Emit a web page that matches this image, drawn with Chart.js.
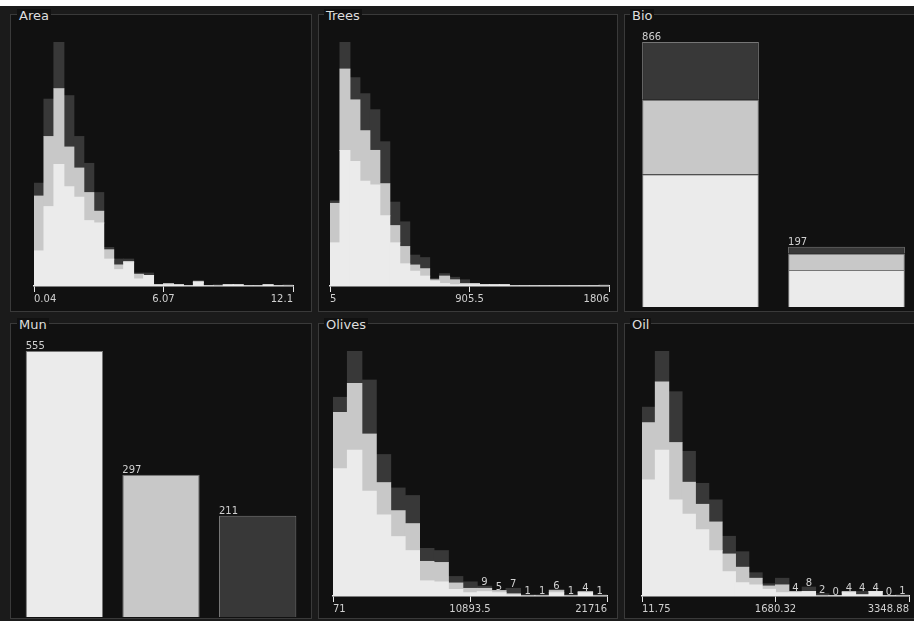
<!DOCTYPE html>
<html><head><meta charset="utf-8">
<script src="https://cdn.jsdelivr.net/npm/chart.js@4/dist/chart.umd.min.js"></script>
<style>
html,body{margin:0;padding:0;width:914px;height:621px;overflow:hidden;background:#ffffff;}
#stage{position:absolute;left:0;top:6px;width:914px;height:615px;background:#1b1b1b;}
.panel{position:absolute;background:#111111;border:1px solid #3a3a3a;box-sizing:border-box;}
.title{position:absolute;font-family:"DejaVu Sans",sans-serif;font-size:13px;line-height:13px;color:#dedede;background:#111111;padding:0 2px;white-space:nowrap;}
canvas{position:absolute;}
</style></head><body>
<div id="stage"></div>
<script>
// ---------------- DATA ----------------
const areaTicks   = ['0.04', '6.07', '12.1'];
const areaLight   = [30, 68, 104, 85, 76, 56, 54, 23, 14, 20, 6, 9, 1, 1, 1, 0, 3, 0, 0, 1, 1, 0, 0, 1, 0, 0];
const areaMid     = [47, 60, 65, 34, 25, 24, 10, 8, 4, 1, 4, 0, 0, 1, 0, 0, 1, 0, 0, 0, 0, 0, 0, 0, 0, 0];
const areaDark    = [11, 32, 40, 44, 27, 25, 16, 2, 5, 2, 1, 2, 0, 0, 0, 0, 0, 0, 1, 0, 0, 0, 0, 0, 0, 1];

const treesTicks  = ['5', '905.5', '1806'];
const treesLight  = [35, 110, 101, 85, 82, 57, 35, 18, 12, 8, 4, 2, 1, 1, 1, 1, 1, 1, 0, 0, 0, 0, 0, 0, 0, 0, 0, 0];
const treesMid    = [32, 66, 50, 41, 28, 26, 14, 14, 5, 6, 1, 6, 4, 1, 1, 0, 0, 0, 0, 0, 0, 0, 0, 0, 0, 0, 0, 0];
const treesDark   = [2, 22, 18, 30, 33, 34, 19, 20, 8, 9, 1, 2, 2, 3, 0, 0, 0, 0, 0, 0, 0, 0, 0, 0, 0, 0, 0, 1];

const bioCategories = ['0', '1'];
const bioLight    = [434, 121];
const bioMid      = [243, 54];
const bioDark     = [189, 22];

const munCategories = ['1', '2', '3'];
const munValues   = [555, 297, 211];

const olivesTicks = ['71', '10893.5', '21716'];
const olivesLight = [118, 135, 97, 75, 55, 42, 14, 13, 6, 3, 4, 3, 1, 0, 0, 3, 0, 3, 0];
const olivesMid   = [52, 62, 53, 30, 24, 25, 18, 18, 6, 4, 3, 2, 1, 0, 0, 2, 0, 1, 0];
const olivesDark  = [14, 30, 50, 26, 21, 26, 12, 11, 6, 6, 2, 0, 5, 1, 1, 1, 1, 0, 1];

const oilTicks    = ['11.75', '1680.32', '3348.88'];
const oilLight    = [105, 132, 87, 74, 60, 41, 22, 12, 10, 6, 3, 3, 4, 0, 0, 3, 1, 4, 0, 0];
const oilMid      = [52, 62, 52, 29, 23, 26, 16, 14, 6, 3, 7, 1, 0, 0, 0, 1, 0, 0, 0, 0];
const oilDark     = [14, 28, 46, 28, 19, 20, 16, 14, 5, 2, 6, 0, 4, 2, 0, 0, 3, 0, 0, 1];

// ---------------- STYLE ----------------
const C_LIGHT = '#ebebeb', C_MID = '#c8c8c8', C_DARK = '#383838';
const LABEL_FONT = '10px "DejaVu Sans"';
const LABEL_COLOR = '#d0d0d0';

const countLabels = {
  id: 'countLabels',
  afterDatasetsDraw(chart, args, opts) {
    if (!opts || !opts.mode) return;
    const ctx = chart.ctx;
    const n = chart.data.labels.length;
    const metas = chart.data.datasets.map((d, i) => chart.getDatasetMeta(i));
    ctx.save();
    ctx.font = LABEL_FONT;
    ctx.fillStyle = LABEL_COLOR;
    ctx.textBaseline = 'alphabetic';
    for (let i = 0; i < n; i++) {
      const total = chart.data.datasets.reduce((s, d) => s + (d.data[i] || 0), 0);
      let top = Infinity;
      metas.forEach(m => { if (m.data[i]) top = Math.min(top, m.data[i].y); });
      const el = metas[0].data[i];
      if (opts.mode === 'bar') {
        ctx.textAlign = 'left';
        ctx.fillText(String(total), el.x - el.width / 2, top - 2);
      } else if (opts.mode === 'small' && total < opts.threshold) {
        ctx.textAlign = 'center';
        ctx.fillText(String(total), el.x, top - 1);
      }
    }
    ctx.restore();
  }
};

function makePanel(title, box, titlePos) {
  const p = document.createElement('div');
  p.className = 'panel';
  Object.assign(p.style, {left: box[0] + 'px', top: box[1] + 'px', width: box[2] + 'px', height: box[3] + 'px'});
  document.body.appendChild(p);
  const t = document.createElement('div');
  t.className = 'title';
  t.textContent = title;
  Object.assign(t.style, {left: titlePos[0] + 'px', top: titlePos[1] + 'px'});
  document.body.appendChild(t);
}
function makeCanvas(box) {
  const c = document.createElement('canvas');
  c.width = box[2]; c.height = box[3];
  Object.assign(c.style, {left: box[0] + 'px', top: box[1] + 'px', width: box[2] + 'px', height: box[3] + 'px'});
  document.body.appendChild(c);
  return c;
}

function histChart(canvas, light, mid, dark, ticks, pad, small) {
  const labels = light.map((_, i) => String(i));
  const totals = light.map((v, i) => v + mid[i] + dark[i]);
  const ds = (data, color) => ({data, backgroundColor: color, borderWidth: 0, inflateAmount: 0.5,
    categoryPercentage: 1, barPercentage: 1, xAxisID: 'x', yAxisID: 'y'});
  return new Chart(canvas, {
    type: 'bar',
    data: {labels, datasets: [ds(light, C_LIGHT), ds(mid, C_MID), ds(dark, C_DARK)]},
    options: {
      responsive: false, animation: false,
      layout: {padding: pad},
      plugins: {legend: {display: false}, tooltip: {enabled: false},
        countLabels: small ? {mode: 'small', threshold: 10} : {mode: null}},
      scales: {
        x: {type: 'category', stacked: true, display: false},
        y: {stacked: true, display: false, min: 0, max: Math.max(...totals)},
        x2: {type: 'linear', position: 'bottom', min: 0, max: ticks.length - 1, offset: false,
          afterFit(s) { s.height = 20; },
          afterBuildTicks(s) { s.ticks = ticks.map((_, i) => ({value: i})); },
          ticks: {callback: v => ticks[v], align: 'inner', color: LABEL_COLOR,
            font: {family: 'DejaVu Sans', size: 10}, padding: 1, maxRotation: 0, autoSkip: false},
          grid: {offset: false, drawOnChartArea: false, drawTicks: true, tickLength: 6, color: '#e8e8e8', lineWidth: 1},
          border: {display: true, color: '#e8e8e8', width: 1.5}
        }
      }
    },
    plugins: [countLabels]
  });
}

// ---------------- LAYOUT ----------------
makePanel('Area',   [10, 14, 302, 298],  [17, 9]);
makePanel('Trees',  [318, 14, 300, 298], [324, 9]);
makePanel('Bio',    [624, 14, 300, 298], [630, 9]);
makePanel('Mun',    [10, 323, 302, 296], [17, 318]);
makePanel('Olives', [318, 323, 300, 296],[324, 318]);
makePanel('Oil',    [624, 323, 300, 296],[630, 318]);

histChart(makeCanvas([11, 15, 299, 295]), areaLight, areaMid, areaDark, areaTicks,
  {left: 23, right: 17, top: 27, bottom: 4}, false);
histChart(makeCanvas([319, 15, 297, 295]), treesLight, treesMid, treesDark, treesTicks,
  {left: 11, right: 7, top: 27, bottom: 4}, false);
histChart(makeCanvas([319, 324, 297, 294]), olivesLight, olivesMid, olivesDark, olivesTicks,
  {left: 14, right: 9, top: 27, bottom: 2}, true);
histChart(makeCanvas([625, 324, 298, 294]), oilLight, oilMid, oilDark, oilTicks,
  {left: 17, right: 14, top: 27, bottom: 2}, true);

// Bio: stacked bars
(function () {
  const ds = (data, color) => ({data, backgroundColor: color, borderColor: 'rgba(130,130,130,0.9)',
    borderWidth: 1, categoryPercentage: 1, barPercentage: 0.8});
  new Chart(makeCanvas([625, 15, 298, 295]), {
    type: 'bar',
    data: {labels: bioCategories, datasets: [ds(bioLight, C_LIGHT), ds(bioMid, C_MID), ds(bioDark, C_DARK)]},
    options: {
      responsive: false, animation: false,
      layout: {padding: {left: 2.5, right: 3.5, top: 27, bottom: 3}},
      plugins: {legend: {display: false}, tooltip: {enabled: false}, countLabels: {mode: 'bar'}},
      scales: {
        x: {stacked: true, display: false},
        y: {stacked: true, display: false, min: 0,
          max: Math.max(...bioLight.map((v, i) => v + bioMid[i] + bioDark[i]))}
      }
    },
    plugins: [countLabels]
  });
})();

// Mun: simple bars
(function () {
  new Chart(makeCanvas([11, 324, 299, 294]), {
    type: 'bar',
    data: {labels: munCategories, datasets: [{data: munValues,
      backgroundColor: [C_LIGHT, C_MID, C_DARK], borderColor: 'rgba(130,130,130,0.9)',
      borderWidth: 1, categoryPercentage: 1, barPercentage: 0.8}]},
    options: {
      responsive: false, animation: false,
      layout: {padding: {left: 5, right: 4, top: 27, bottom: 1}},
      plugins: {legend: {display: false}, tooltip: {enabled: false}, countLabels: {mode: 'bar'}},
      scales: {
        x: {display: false},
        y: {display: false, min: 0, max: Math.max(...munValues)}
      }
    },
    plugins: [countLabels]
  });
})();
</script>
</body></html>
